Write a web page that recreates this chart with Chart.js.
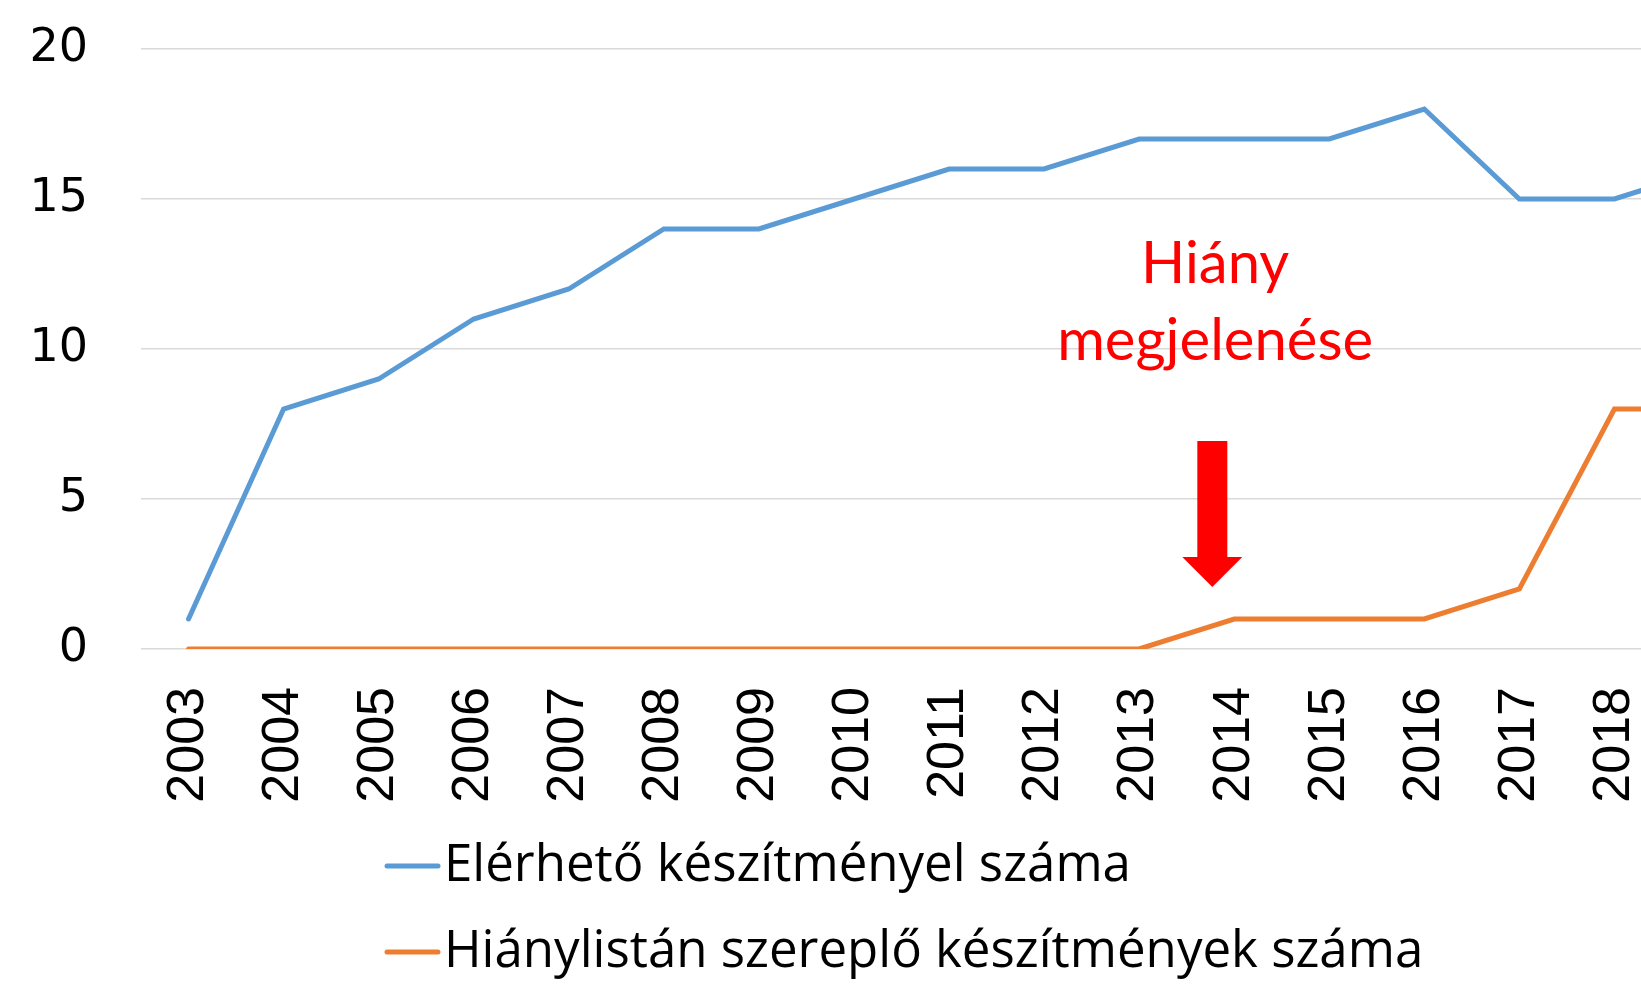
<!DOCTYPE html>
<html><head><meta charset="utf-8">
<script src="https://cdn.jsdelivr.net/npm/chart.js@4"></script>
<style>html,body{margin:0;padding:0;overflow:hidden;background:#fff}#wrap{width:1760px;height:997px;position:relative}</style>
</head><body><div id="wrap"><canvas id="c"></canvas></div>
<script>
const years = ['2003','2004','2005','2006','2007','2008','2009','2010','2011','2012','2013','2014','2015','2016','2017','2018','2019'];
const availableCount = [1,8,9,11,12,14,14,15,16,16,17,17,17,18,15,15,16];
const shortageCount = [0,0,0,0,0,0,0,0,0,0,0,1,1,1,2,8,8];
const seriesLabels = ['Elérhető készítményel száma','Hiánylistán szereplő készítmények száma'];
const seriesColors = ['#5B9BD5','#ED7D31'];
const yTicks = [0,5,10,15,20];
const annotationLines = ['Hiány','megjelenése'];

const overlay = {
  id: 'overlay',
  afterDraw(chart) {
    const {ctx, scales: {x, y}} = chart;
    ctx.save();
    // annotation text
    ctx.fillStyle = '#FF0000';
    ctx.font = '58px Lato';
    ctx.textAlign = 'center';
    ctx.textBaseline = 'alphabetic';
    const tx = x.getPixelForValue(10.8);
    ctx.fillText(annotationLines[0], tx, y.getPixelForValue(12.2));
    ctx.fillText(annotationLines[1], tx, y.getPixelForValue(9.63));
    // arrow
    const ax = x.getPixelForValue(10.77);
    const top = y.getPixelForValue(6.93), base = y.getPixelForValue(3.07), tip = y.getPixelForValue(2.07);
    ctx.beginPath();
    ctx.moveTo(ax - 15, top);
    ctx.lineTo(ax + 15, top);
    ctx.lineTo(ax + 15, base);
    ctx.lineTo(ax + 30, base);
    ctx.lineTo(ax, tip);
    ctx.lineTo(ax - 30, base);
    ctx.lineTo(ax - 15, base);
    ctx.closePath();
    ctx.fill();
    // legend
    const rows = [866, 952];
    ctx.font = '51px "Open Sans"';
    ctx.textAlign = 'left';
    ctx.textBaseline = 'middle';
    seriesLabels.forEach((lab, i) => {
      ctx.strokeStyle = seriesColors[i];
      ctx.lineWidth = 5;
      ctx.lineCap = 'round';
      ctx.beginPath();
      ctx.moveTo(387, rows[i]);
      ctx.lineTo(438, rows[i]);
      ctx.stroke();
      ctx.fillStyle = '#000';
      ctx.fillText(lab, 444, rows[i]);
    });
    ctx.restore();
  }
};

new Chart(document.getElementById('c'), {
  type: 'line',
  data: {
    labels: years,
    datasets: [
      {label: seriesLabels[0], data: availableCount, borderColor: seriesColors[0], backgroundColor: seriesColors[0], borderWidth: 5, pointRadius: 0, borderCapStyle: 'round', tension: 0},
      {label: seriesLabels[1], data: shortageCount, borderColor: seriesColors[1], backgroundColor: seriesColors[1], borderWidth: 5, pointRadius: 0, borderCapStyle: 'round', tension: 0}
    ]
  },
  options: {
    responsive: true,
    maintainAspectRatio: false,
    animation: false,
    layout: {padding: {top: 49, right: 3, left: 0, bottom: 0}},
    plugins: {legend: {display: false}, tooltip: {enabled: false}},
    scales: {
      x: {
        offset: true,
        grid: {display: false, drawTicks: false},
        border: {display: false},
        ticks: {minRotation: 90, maxRotation: 90, padding: 38, color: '#000', font: {family: 'Liberation Sans', size: 52}},
        afterFit: s => { s.height = 348; s.paddingLeft = 0; s.paddingRight = 0; }
      },
      y: {
        min: 0, max: 20,
        grid: {color: '#D9D9D9', lineWidth: 1.5, drawTicks: false},
        border: {display: false},
        ticks: {padding: 53, color: '#000', font: {family: 'DejaVu Sans', size: 46}},
        afterBuildTicks: s => { s.ticks = yTicks.map(v => ({value: v})); },
        afterFit: s => { s.width = 141; s.paddingTop = 0; s.paddingBottom = 0; }
      }
    }
  },
  plugins: [overlay]
});
</script></body></html>
